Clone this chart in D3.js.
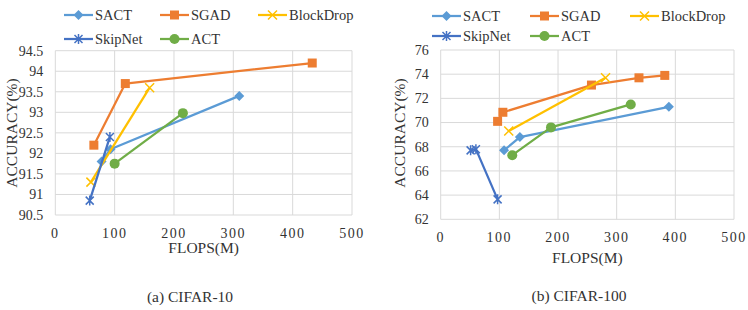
<!DOCTYPE html>
<html>
<head>
<meta charset="utf-8">
<script src="https://cdn.jsdelivr.net/npm/d3@7"></script>
<style>
  body { margin: 0; background: #fff; }
</style>
</head>
<body>
<script>
const width = 748, height = 310;

const seriesNames = ['SACT', 'SGAD', 'BlockDrop', 'SkipNet', 'ACT'];
const seriesColors = ['#5B9BD5', '#ED7D31', '#FFC000', '#4472C4', '#70AD47'];
const seriesSymbols = ['diamond', 'square', 'cross', 'star', 'circle'];

// CIFAR-10 : [flops, accuracy]
const c10SACT      = [[78, 91.8], [93, 92.1], [310, 93.4]];
const c10SGAD      = [[65, 92.2], [118, 93.7], [433, 94.2]];
const c10BlockDrop = [[60, 91.3], [159, 93.6]];
const c10SkipNet   = [[58, 90.85], [92, 92.4]];
const c10ACT       = [[100, 91.75], [215, 92.98]];

// CIFAR-100
const c100SACT      = [[108, 67.7], [135, 68.8], [389, 71.3]];
const c100SGAD      = [[97, 70.1], [106, 70.85], [257, 73.1], [338, 73.7], [382, 73.9]];
const c100BlockDrop = [[116, 69.3], [281, 73.7]];
const c100SkipNet   = [[51, 67.7], [60, 67.8], [97, 63.65]];
const c100ACT       = [[122, 67.3], [188, 69.6], [324, 71.5]];

const xTicks = [0, 100, 200, 300, 400, 500];
const c10YTicks = [90.5, 91, 91.5, 92, 92.5, 93, 93.5, 94, 94.5];
const c100YTicks = [62, 64, 66, 68, 70, 72, 74, 76];

const svg = d3.select('body').append('svg')
  .attr('width', width)
  .attr('height', height)
  .style('font-family', "'Liberation Serif', 'DejaVu Serif', serif")
  .style('font-weight', 'normal');

const drawMarker = (g, kind, color) => {
  if (kind === 'cross') {
    g.append('path').attr('d', 'M-4.5,-4.5L4.5,4.5M-4.5,4.5L4.5,-4.5')
      .attr('stroke', color).attr('stroke-width', 1.5).attr('fill', 'none');
  } else if (kind === 'star') {
    g.append('path').attr('d', 'M-4,-4L4,4M-4,4L4,-4M0,-5L0,5')
      .attr('stroke', color).attr('stroke-width', 1.5).attr('fill', 'none');
  } else if (kind === 'diamond') {
    g.append('path').attr('d', 'M0,-5L5,0L0,5L-5,0Z').attr('fill', color);
  } else if (kind === 'square') {
    g.append('path').attr('d', 'M-4.5,-4.5H4.5V4.5H-4.5Z').attr('fill', color);
  } else {
    g.append('circle').attr('r', 5).attr('fill', color);
  }
};

const panel = (opt) => {
  const x = d3.scaleLinear().domain([0, 500]).range([opt.x0, opt.x1]);
  const y = d3.scaleLinear().domain(opt.yDomain).range([opt.y1, opt.y0]);
  const g = svg.append('g');

  // grid
  g.selectAll('.hg').data(opt.yTicks).join('line')
    .attr('x1', opt.x0).attr('x2', opt.x1)
    .attr('y1', d => y(d)).attr('y2', d => y(d))
    .attr('stroke', '#d9d9d9').attr('stroke-width', 1);
  g.selectAll('.vg').data(xTicks).join('line')
    .attr('x1', d => x(d)).attr('x2', d => x(d))
    .attr('y1', opt.y0).attr('y2', opt.y1)
    .attr('stroke', '#d9d9d9').attr('stroke-width', 1);

  const txt = (sel) => sel.attr('fill', '#333').attr('dy', '0.35em');

  // tick labels
  g.selectAll('.yt').data(opt.yTicks).join('text')
    .attr('x', opt.x0 - 12).attr('y', d => y(d))
    .attr('text-anchor', 'end')
    .attr('font-size', 14).text(d => d).call(txt);
  g.selectAll('.xt').data(xTicks).join('text')
    .attr('x', d => x(d)).attr('y', opt.xTickY)
    .attr('text-anchor', 'middle')
    .attr('font-size', 14).attr('letter-spacing', 1.5).text(d => d).call(txt);

  g.append('text')
    .attr('x', (opt.x0 + opt.x1) / 2).attr('y', opt.xLabelY)
    .attr('text-anchor', 'middle')
    .attr('font-size', 15.5).text('FLOPS(M)').call(txt);
  g.append('text')
    .attr('transform', `translate(${opt.yLabelX},${opt.yLabelY}) rotate(-90)`)
    .attr('text-anchor', 'middle')
    .attr('font-size', 15.5).text('ACCURACY(%)').call(txt);
  g.append('text')
    .attr('x', opt.captionX).attr('y', opt.captionY)
    .attr('text-anchor', 'middle')
    .attr('font-size', 15.5).text(opt.caption).call(txt);

  const line = d3.line().x(d => x(d[0])).y(d => y(d[1]));

  opt.series.forEach((data, i) => {
    g.append('path').datum(data)
      .attr('d', line)
      .attr('fill', 'none')
      .attr('stroke', seriesColors[i])
      .attr('stroke-width', 2.25)
      .attr('stroke-linejoin', 'round');
    data.forEach(d => {
      const m = g.append('g').attr('transform', `translate(${x(d[0])},${y(d[1])})`);
      drawMarker(m, seriesSymbols[i], seriesColors[i]);
    });
  });

  // legend
  seriesNames.forEach((name, i) => {
    const col = i < 3 ? i : i - 3;
    const row = i < 3 ? 0 : 1;
    const lx = opt.legendX[col];
    const ly = opt.legendY[row];
    g.append('line')
      .attr('x1', lx).attr('x2', lx + 29)
      .attr('y1', ly).attr('y2', ly)
      .attr('stroke', seriesColors[i]).attr('stroke-width', 2.25);
    const m = g.append('g').attr('transform', `translate(${lx + 14.5},${ly})`);
    drawMarker(m, seriesSymbols[i], seriesColors[i]);
    g.append('text')
      .attr('x', lx + 31).attr('y', ly)
      .attr('font-size', 14.5).text(name).call(txt);
  });
};

panel({
  x0: 55.3, x1: 352, y0: 50.7, y1: 215,
  yDomain: [90.5, 94.5], yTicks: c10YTicks,
  series: [c10SACT, c10SGAD, c10BlockDrop, c10SkipNet, c10ACT],
  xTickY: 233, xLabelY: 248,
  yLabelX: 12, yLabelY: 133,
  caption: '(a) CIFAR-10', captionX: 190, captionY: 297,
  legendX: [64, 160, 258], legendY: [15, 39]
});

panel({
  x0: 440.7, x1: 734, y0: 50, y1: 219.3,
  yDomain: [62, 76], yTicks: c100YTicks,
  series: [c100SACT, c100SGAD, c100BlockDrop, c100SkipNet, c100ACT],
  xTickY: 237, xLabelY: 258,
  yLabelX: 400, yLabelY: 133,
  caption: '(b) CIFAR-100', captionX: 579, captionY: 296,
  legendX: [432, 530, 630], legendY: [16, 36]
});
</script>
</body>
</html>
